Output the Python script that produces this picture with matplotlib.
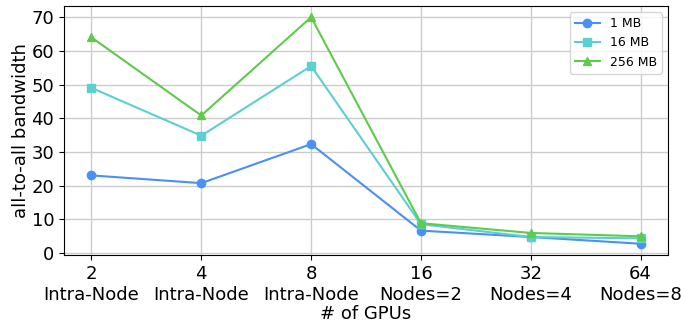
import numpy as np
import matplotlib.pyplot as plt

gpus = ['2', '4', '8', '16', '32', '64']
groups = ['Intra-Node', 'Intra-Node', 'Intra-Node', 'Nodes=2', 'Nodes=4', 'Nodes=8']

bw_1mb = [23.0, 20.7, 32.3, 6.6, 4.7, 2.7]
bw_16mb = [49.0, 34.8, 55.5, 8.5, 4.7, 4.3]
bw_256mb = [64.0, 40.8, 70.0, 8.8, 5.9, 4.9]

x = np.arange(len(gpus))

fig, ax = plt.subplots(figsize=(6.81, 3.27), dpi=100)
ax.plot(x, bw_1mb, marker='o', color='#4a90f5', label='1 MB')
ax.plot(x, bw_16mb, marker='s', color='#5ccfd2', label='16 MB')
ax.plot(x, bw_256mb, marker='^', color='#5ecb4c', label='256 MB')

ax.set_xticks(x)
ax.set_xticklabels([f'{g}\n{n}' for g, n in zip(gpus, groups)], fontsize=13)
ax.set_yticks(range(0, 71, 10))
ax.tick_params(axis='y', labelsize=13)
ax.set_xlabel('# of GPUs', fontsize=13, labelpad=1)
ax.set_ylabel('all-to-all bandwidth', fontsize=13, labelpad=1)
ax.grid(True, color='#cccccc', linewidth=1)
ax.set_axisbelow(True)
ax.legend(fontsize=9)

plt.subplots_adjust(left=0.094, right=0.981, top=0.982, bottom=0.22)
plt.savefig('out.png')
